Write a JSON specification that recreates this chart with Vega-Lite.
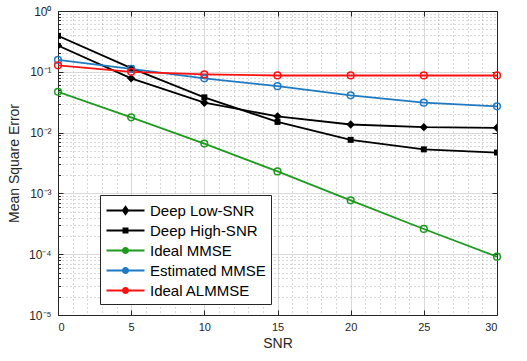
{
  "$schema": "https://vega.github.io/schema/vega-lite/v6.json",
  "autosize": "none",
  "width": 439,
  "height": 304,
  "padding": {"left": 58, "top": 11, "right": 30, "bottom": 46},
  "background": "white",
  "config": {
    "font": "Liberation Sans",
    "view": {"stroke": null}
  },
  "data": {
    "values": [
      {"snr": 0, "mse": 0.27, "method": "Deep Low-SNR"},
      {"snr": 5, "mse": 0.078, "method": "Deep Low-SNR"},
      {"snr": 10, "mse": 0.031, "method": "Deep Low-SNR"},
      {"snr": 15, "mse": 0.0185, "method": "Deep Low-SNR"},
      {"snr": 20, "mse": 0.0136, "method": "Deep Low-SNR"},
      {"snr": 25, "mse": 0.0123, "method": "Deep Low-SNR"},
      {"snr": 30, "mse": 0.012, "method": "Deep Low-SNR"},
      {"snr": 0, "mse": 0.39, "method": "Deep High-SNR"},
      {"snr": 5, "mse": 0.115, "method": "Deep High-SNR"},
      {"snr": 10, "mse": 0.038, "method": "Deep High-SNR"},
      {"snr": 15, "mse": 0.015, "method": "Deep High-SNR"},
      {"snr": 20, "mse": 0.0076, "method": "Deep High-SNR"},
      {"snr": 25, "mse": 0.0053, "method": "Deep High-SNR"},
      {"snr": 30, "mse": 0.0047, "method": "Deep High-SNR"},
      {"snr": 0, "mse": 0.047, "method": "Ideal MMSE"},
      {"snr": 5, "mse": 0.0178, "method": "Ideal MMSE"},
      {"snr": 10, "mse": 0.0066, "method": "Ideal MMSE"},
      {"snr": 15, "mse": 0.0023, "method": "Ideal MMSE"},
      {"snr": 20, "mse": 0.00077, "method": "Ideal MMSE"},
      {"snr": 25, "mse": 0.00026, "method": "Ideal MMSE"},
      {"snr": 30, "mse": 0.000091, "method": "Ideal MMSE"},
      {"snr": 0, "mse": 0.157, "method": "Estimated MMSE"},
      {"snr": 5, "mse": 0.112, "method": "Estimated MMSE"},
      {"snr": 10, "mse": 0.078, "method": "Estimated MMSE"},
      {"snr": 15, "mse": 0.058, "method": "Estimated MMSE"},
      {"snr": 20, "mse": 0.041, "method": "Estimated MMSE"},
      {"snr": 25, "mse": 0.031, "method": "Estimated MMSE"},
      {"snr": 30, "mse": 0.027, "method": "Estimated MMSE"},
      {"snr": 0, "mse": 0.128, "method": "Ideal ALMMSE"},
      {"snr": 5, "mse": 0.1, "method": "Ideal ALMMSE"},
      {"snr": 10, "mse": 0.091, "method": "Ideal ALMMSE"},
      {"snr": 15, "mse": 0.087, "method": "Ideal ALMMSE"},
      {"snr": 20, "mse": 0.087, "method": "Ideal ALMMSE"},
      {"snr": 25, "mse": 0.087, "method": "Ideal ALMMSE"},
      {"snr": 30, "mse": 0.087, "method": "Ideal ALMMSE"}
    ]
  },
  "layer": [
    {
      "mark": {"type": "line", "strokeWidth": 1.8, "clip": true},
      "encoding": {
        "x": {
          "field": "snr", "type": "quantitative",
          "scale": {"domain": [0, 30], "nice": false, "zero": false},
          "axis": {
            "orient": "bottom",
            "title": "SNR",
            "values": [0,1,2,3,4,5,6,7,8,9,10,11,12,13,14,15,16,17,18,19,20,21,22,23,24,25,26,27,28,29,30],
            "labelExpr": "datum.value % 5 == 0 ? datum.label : ''",
            "labelFontSize": 11,
            "labelColor": "#262626",
            "labelPadding": 11,
            "titleFontSize": 14,
            "titleFontWeight": "normal",
            "titleColor": "#262626",
            "titlePadding": 4,
            "domainColor": "#262626",
            "domainWidth": 1,
            "tickColor": "#262626",
            "tickSize": {"condition": {"test": "datum.value % 5 == 0", "value": -5}, "value": 0},
            "grid": true,
            "gridColor": {"condition": {"test": "datum.value % 5 == 0", "value": "#d9d9d9"}, "value": "#b0b0b0"},
            "gridDash": {"condition": {"test": "datum.value % 5 == 0", "value": []}, "value": [1, 3]},
            "gridWidth": 1
          }
        },
        "y": {
          "field": "mse", "type": "quantitative",
          "scale": {"type": "log", "domain": [0.00001, 1], "nice": false},
          "axis": {
            "orient": "left",
            "title": "Mean Square Error",
            "values": [0.00001,0.00002,0.00003,0.00004,0.00005,0.00006,0.00007,0.00008,0.00009,
                       0.0001,0.0002,0.0003,0.0004,0.0005,0.0006,0.0007,0.0008,0.0009,
                       0.001,0.002,0.003,0.004,0.005,0.006,0.007,0.008,0.009,
                       0.01,0.02,0.03,0.04,0.05,0.06,0.07,0.08,0.09,
                       0.1,0.2,0.3,0.4,0.5,0.6,0.7,0.8,0.9,1],
            "labelExpr": "abs(log(datum.value)/LN10 - round(log(datum.value)/LN10)) < 0.000001 ? (round(log(datum.value)/LN10) == 0 ? '10⁰' : '10⁻' + ['','¹','²','³','⁴','⁵'][-round(log(datum.value)/LN10)]) : ''",
            "labelFontSize": 12,
            "labelColor": "#262626",
            "labelPadding": 12,
            "titleFontSize": 14,
            "titleFontWeight": "normal",
            "titleColor": "#262626",
            "titlePadding": 7,
            "domainColor": "#262626",
            "domainWidth": 1,
            "tickColor": "#262626",
            "tickSize": {"condition": {"test": "abs(log(datum.value)/LN10 - round(log(datum.value)/LN10)) < 0.000001", "value": -5}, "value": -2.5},
            "grid": true,
            "gridColor": {"condition": {"test": "abs(log(datum.value)/LN10 - round(log(datum.value)/LN10)) < 0.000001", "value": "#d9d9d9"}, "value": "#b0b0b0"},
            "gridDash": {"condition": {"test": "abs(log(datum.value)/LN10 - round(log(datum.value)/LN10)) < 0.000001", "value": []}, "value": [1, 3]},
            "gridWidth": 1
          }
        },
        "color": {
          "field": "method", "type": "nominal",
          "scale": {
            "domain": ["Deep Low-SNR", "Deep High-SNR", "Ideal MMSE", "Estimated MMSE", "Ideal ALMMSE"],
            "range": ["#000000", "#000000", "#1e9a1e", "#1f7ac4", "#ff1010"]
          },
          "legend": {
            "title": null,
            "orient": "none",
            "legendX": 42,
            "legendY": 184,
            "direction": "vertical",
            "fillColor": "white",
            "strokeColor": "#262626",
            "padding": 5,
            "labelFontSize": 15,
            "labelColor": "#000000",
            "symbolOffset": 10,
            "labelOffset": 14,
            "rowPadding": 1,
            "symbolSize": 361,
            "symbolStrokeWidth": 1.8,
            "symbolType": "M-2,0H2",
            "encode": {
              "symbols": {
                "update": {
                  "shape": {"signal": "datum.value == 'Deep Low-SNR' ? 'M-2,0H2M0,-0.4L0.28,0L0,0.4L-0.28,0Z' : datum.value == 'Deep High-SNR' ? 'M-2,0H2M-0.22,-0.22H0.22V0.22H-0.22Z' : 'M-2,0H2M-0.28,0A0.28,0.28 0 1,0 0.28,0A0.28,0.28 0 1,0 -0.28,0Z'"},
                  "fill": {"signal": "datum.value == 'Deep Low-SNR' || datum.value == 'Deep High-SNR' ? '#000000' : 'transparent'"},
                  "fillOpacity": {"value": 1}
                }
              }
            }
          }
        }
      }
    },
    {
      "transform": [{"filter": "datum.method == 'Deep Low-SNR' || datum.method == 'Deep High-SNR'"}],
      "mark": {"type": "point", "filled": true, "opacity": 1, "clip": true},
      "encoding": {
        "x": {"field": "snr", "type": "quantitative", "axis": null},
        "y": {"field": "mse", "type": "quantitative", "axis": null},
        "color": {"field": "method", "type": "nominal", "legend": null},
        "shape": {
          "field": "method", "type": "nominal",
          "scale": {"domain": ["Deep Low-SNR", "Deep High-SNR"], "range": ["diamond", "square"]},
          "legend": null
        },
        "size": {
          "field": "method", "type": "nominal",
          "scale": {"domain": ["Deep Low-SNR", "Deep High-SNR"], "range": [70, 36]},
          "legend": null
        }
      }
    },
    {
      "transform": [{"filter": "datum.method != 'Deep Low-SNR' && datum.method != 'Deep High-SNR'"}],
      "mark": {"type": "point", "shape": "circle", "filled": false, "size": 45, "strokeWidth": 1.5, "opacity": 1, "clip": false},
      "encoding": {
        "x": {
          "field": "snr", "type": "quantitative",
          "axis": {
            "orient": "top", "title": null, "labels": false, "grid": false,
            "values": [0,5,10,15,20,25,30],
            "domainColor": "#262626", "tickColor": "#262626", "tickSize": -5
          }
        },
        "y": {
          "field": "mse", "type": "quantitative",
          "axis": {
            "orient": "right", "title": null, "labels": false, "grid": false,
            "values": [0.00001,0.0001,0.001,0.01,0.1,1],
            "domainColor": "#262626", "tickColor": "#262626", "tickSize": -5
          }
        },
        "color": {"field": "method", "type": "nominal", "legend": null}
      }
    }
  ],
  "resolve": {"axis": {"x": "independent", "y": "independent"}, "scale": {"shape": "independent", "size": "independent"}}
}
